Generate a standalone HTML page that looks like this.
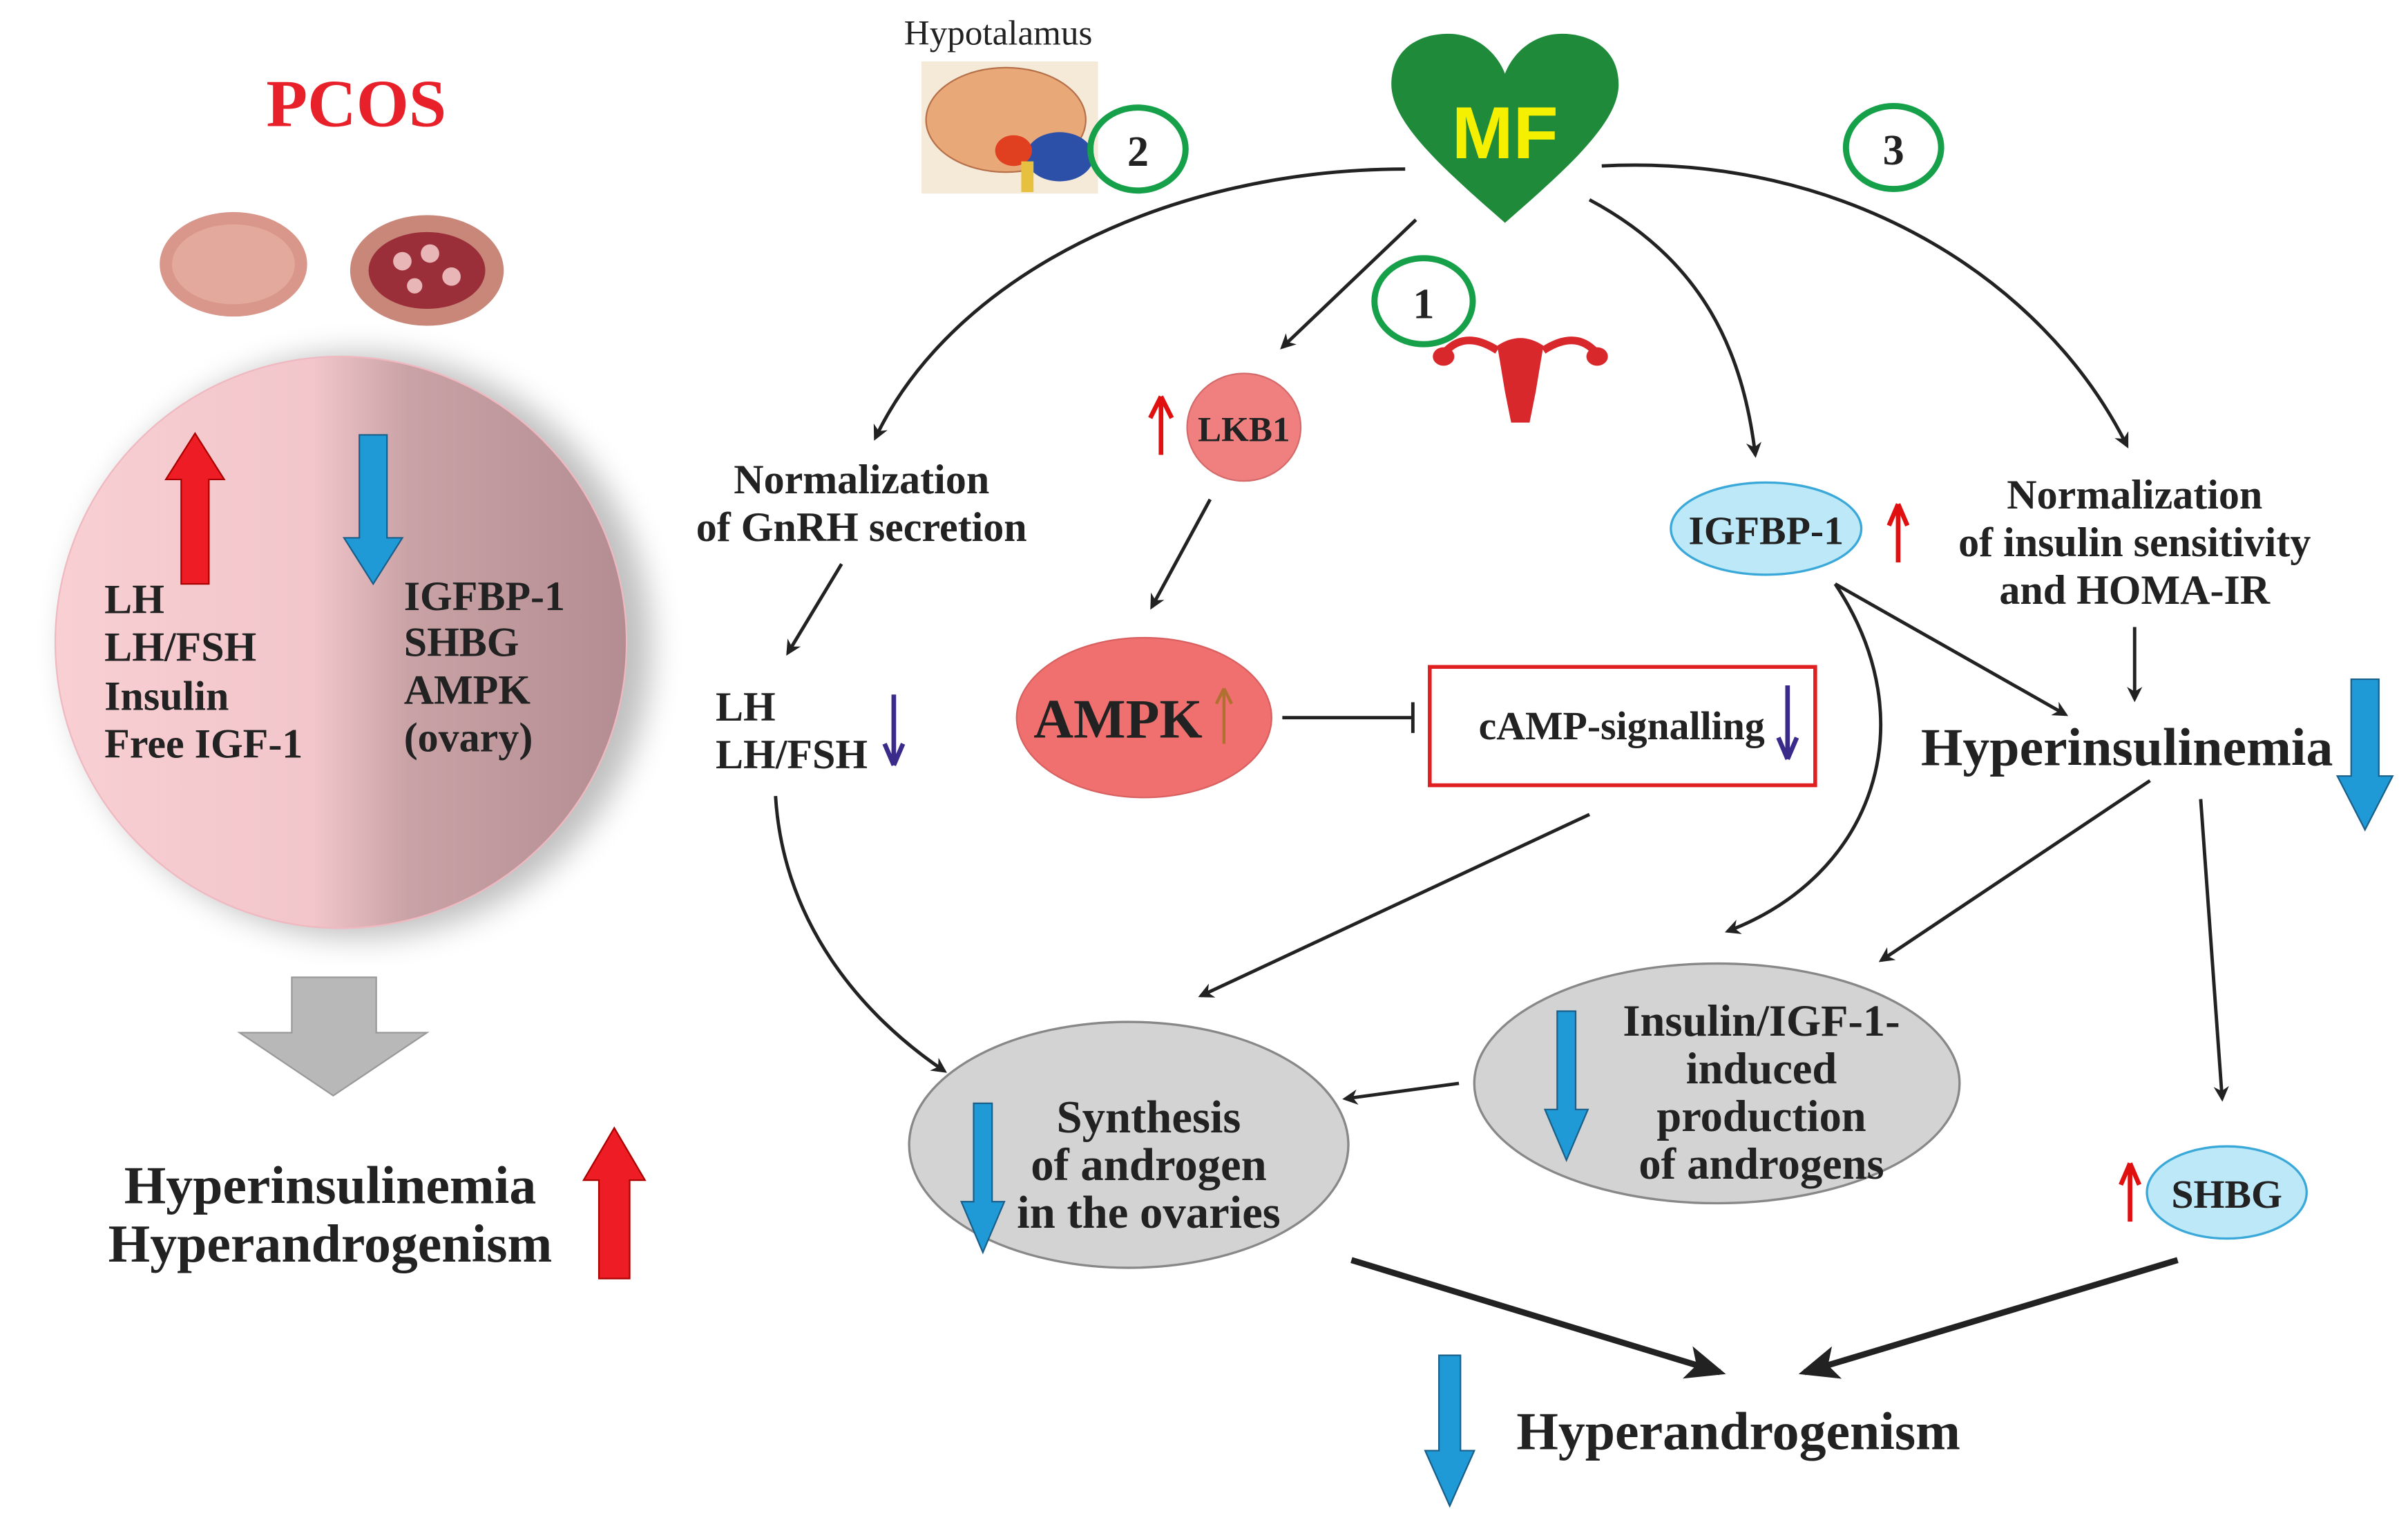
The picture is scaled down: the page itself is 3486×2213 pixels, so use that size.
<!DOCTYPE html>
<html><head><meta charset="utf-8"><style>
html,body{margin:0;padding:0;background:#fff;}
svg{display:block;}
text{font-family:"Liberation Serif",serif;font-weight:bold;fill:#222;}
</style></head><body>
<svg width="3486" height="2213" viewBox="0 0 1568 995" preserveAspectRatio="none" xmlns="http://www.w3.org/2000/svg">
<defs>
<marker id="ah" markerWidth="10" markerHeight="10" refX="8" refY="5" orient="auto" markerUnits="userSpaceOnUse" viewBox="0 0 10 10"><path d="M0,0 L10,5 L0,10 L3,5 z" fill="#222"/></marker>
<marker id="ah2" markerWidth="26" markerHeight="22" refX="22" refY="11" orient="auto" markerUnits="userSpaceOnUse" viewBox="0 0 26 22"><path d="M0,0 L26,11 L0,22 L6,11 z" fill="#222"/></marker>
<linearGradient id="shade" x1="0" y1="0" x2="1" y2="0"><stop offset="0" stop-color="#f8cfd3"/><stop offset="0.45" stop-color="#f2c6ca"/><stop offset="0.62" stop-color="#c9a2a6"/><stop offset="1" stop-color="#b38d91"/></linearGradient>
<filter id="blur"><feGaussianBlur stdDeviation="10"/></filter>
</defs>

<text x="232" y="82" font-size="44" style="fill:#e8202a" text-anchor="middle">PCOS</text>
<ellipse cx="152" cy="172" rx="48" ry="34" fill="#d9968a"/>
<ellipse cx="152" cy="172" rx="40" ry="26" fill="#e3a99c"/>
<ellipse cx="278" cy="176" rx="50" ry="36" fill="#c9877a"/>
<ellipse cx="278" cy="176" rx="38" ry="25" fill="#9a2f3a"/>
<circle cx="262" cy="170" r="6" fill="#e8b6b6"/><circle cx="280" cy="165" r="6" fill="#e8b6b6"/><circle cx="294" cy="180" r="6" fill="#e8b6b6"/><circle cx="270" cy="186" r="5" fill="#e8b6b6"/>

<circle cx="234" cy="420" r="190" fill="#000" opacity="0.25" filter="url(#blur)"/>
<circle cx="222" cy="418" r="186" fill="url(#shade)" stroke="#f0b8c0"/>

<path d="M127,282 L146,312 L136,312 L136,380 L118,380 L118,312 L108,312 z" fill="#ee1c24" stroke="#a00" stroke-width="1"/>
<path d="M243,380 L262,350 L252,350 L252,283 L234,283 L234,350 L224,350 z" fill="#1f9ad6" stroke="#1a5f8a" stroke-width="1"/>
<g font-size="27">
<text x="68" y="399">LH</text><text x="68" y="430">LH/FSH</text><text x="68" y="462">Insulin</text><text x="68" y="493">Free IGF-1</text>
<text x="263" y="397">IGFBP-1</text><text x="263" y="427">SHBG</text><text x="263" y="458">AMPK</text><text x="263" y="489">(ovary)</text>
</g>
<path d="M190,636 L245,636 L245,672 L278,672 L217,713 L156,672 L190,672 z" fill="#b8b8b8" stroke="#999"/>
<g font-size="35" text-anchor="middle"><text x="215" y="783">Hyperinsulinemia</text><text x="215" y="821">Hyperandrogenism</text></g>
<path d="M400,734 L420,768 L410,768 L410,832 L390,832 L390,768 L380,768 z" fill="#ee1c24" stroke="#a00"/>

<text x="650" y="29" font-size="23" style="font-weight:normal" text-anchor="middle">Hypotalamus</text>
<rect x="600" y="40" width="115" height="86" fill="#f5ead8"/>
<ellipse cx="655" cy="78" rx="52" ry="34" fill="#e9a878" stroke="#b6704a"/>
<ellipse cx="690" cy="102" rx="22" ry="16" fill="#2c4fa8"/>
<ellipse cx="660" cy="98" rx="12" ry="10" fill="#e04020"/>
<rect x="665" y="105" width="8" height="20" fill="#e8c040"/>
<ellipse cx="741" cy="97" rx="31" ry="27" fill="none" stroke="#17a04a" stroke-width="4"/>
<text x="741" y="108" font-size="28" text-anchor="middle">2</text>
<ellipse cx="1233" cy="96" rx="31" ry="27" fill="none" stroke="#17a04a" stroke-width="4"/>
<text x="1233" y="107" font-size="28" text-anchor="middle">3</text>
<ellipse cx="927" cy="196" rx="32" ry="28" fill="none" stroke="#17a04a" stroke-width="4"/>
<text x="927" y="207" font-size="28" text-anchor="middle">1</text>

<path d="M980,145 C940,110 906,80 906,55 C906,32 924,22 943,22 C962,22 975,35 980,48 C985,35 998,22 1017,22 C1036,22 1054,32 1054,55 C1054,80 1020,110 980,145 z" fill="#1e8a3a"/>
<text x="980" y="103" font-size="48" style="fill:#f5f000;font-family:'Liberation Sans',sans-serif" text-anchor="middle">MF</text>

<path d="M975,225 Q990,215 1005,225 L1000,255 L996,275 L984,275 L980,255 z" fill="#d8282c"/>
<path d="M975,228 Q955,215 942,228 M1005,228 Q1025,215 1038,228" stroke="#d8282c" stroke-width="5" fill="none"/>
<ellipse cx="940" cy="232" rx="7" ry="6" fill="#d8282c"/><ellipse cx="1040" cy="232" rx="7" ry="6" fill="#d8282c"/>

<g stroke="#222" stroke-width="2.2" fill="none" marker-end="url(#ah)">
<path d="M915,110 C760,110 620,180 570,285"/>
<path d="M922,143 L835,226"/>
<path d="M1035,130 C1110,170 1135,230 1143,296"/>
<path d="M1043,108 C1200,100 1330,180 1385,290"/>
<path d="M788,325 L750,395"/>
<path d="M548,367 L513,425"/>
<path d="M1390,408 L1390,455"/>
<path d="M1195,380 L1345,465"/>
<path d="M1195,380 C1255,470 1220,570 1125,606"/>
<path d="M1400,508 L1225,625"/>
<path d="M1433,520 L1447,715"/>
<path d="M1035,530 L782,648"/>
<path d="M505,518 C510,600 560,660 615,697"/>
<path d="M950,705 L876,715"/>
</g>
<g stroke="#222" stroke-width="4" fill="none" marker-end="url(#ah2)">
<path d="M880,820 L1120,893"/>
<path d="M1418,820 L1175,893"/>
</g>

<ellipse cx="810" cy="278" rx="37" ry="35" fill="#f08080" stroke="#d46a6a"/>
<text x="810" y="287" font-size="23" text-anchor="middle">LKB1</text>
<path d="M756,258 L763,272 M756,258 L749,272 M756,258 L756,296" stroke="#e01010" stroke-width="3" fill="none"/>

<text x="561" y="321" font-size="27" text-anchor="middle">Normalization</text>
<text x="561" y="352" font-size="27" text-anchor="middle">of GnRH secretion</text>

<ellipse cx="745" cy="467" rx="83" ry="52" fill="#f07070" stroke="#d86060"/>
<text x="728" y="480" font-size="36" text-anchor="middle">AMPK</text>
<path d="M797,448 L797,484 M797,448 L792,458 M797,448 L802,458" stroke="#b07030" stroke-width="2" fill="none"/>
<path d="M835,467 L920,467 M920,457 L920,477" stroke="#222" stroke-width="2.2" fill="none"/>
<rect x="931" y="434" width="251" height="77" fill="#fff" stroke="#e02020" stroke-width="2.5"/>
<text x="1056" y="481" font-size="26" text-anchor="middle">cAMP-signalling</text>
<path d="M1164,446 L1164,494 M1164,494 L1158,480 M1164,494 L1170,480" stroke="#3a2a8a" stroke-width="3" fill="none"/>

<text x="466" y="469" font-size="27">LH</text>
<text x="466" y="500" font-size="27">LH/FSH</text>
<path d="M582,452 L582,498 M582,498 L576,484 M582,498 L588,484" stroke="#3a2a8a" stroke-width="3" fill="none"/>

<ellipse cx="1150" cy="344" rx="62" ry="30" fill="#bde8f7" stroke="#3aa8d8" stroke-width="1.5"/>
<text x="1150" y="354" font-size="26" text-anchor="middle">IGFBP-1</text>
<path d="M1236,328 L1236,366 M1236,328 L1230,342 M1236,328 L1242,342" stroke="#e01010" stroke-width="3" fill="none"/>

<g font-size="27" text-anchor="middle"><text x="1390" y="331">Normalization</text><text x="1390" y="362">of insulin sensitivity</text><text x="1390" y="393">and HOMA-IR</text></g>
<text x="1385" y="498" font-size="35" text-anchor="middle">Hyperinsulinemia</text>
<path d="M1540,540 L1558,505 L1549,505 L1549,442 L1531,442 L1531,505 L1522,505 z" fill="#1f9ad6" stroke="#1a5f8a"/>

<ellipse cx="735" cy="745" rx="143" ry="80" fill="#d3d3d3" stroke="#888" stroke-width="1.5"/>
<g font-size="30" text-anchor="middle"><text x="748" y="737">Synthesis</text><text x="748" y="768">of androgen</text><text x="748" y="799">in the ovaries</text></g>
<path d="M640,815 L654,782 L646,782 L646,718 L634,718 L634,782 L626,782 z" fill="#1f9ad6" stroke="#1a5f8a"/>

<ellipse cx="1118" cy="705" rx="158" ry="78" fill="#d3d3d3" stroke="#888" stroke-width="1.5"/>
<g font-size="29" text-anchor="middle"><text x="1147" y="674">Insulin/IGF-1-</text><text x="1147" y="705">induced</text><text x="1147" y="736">production</text><text x="1147" y="767">of androgens</text></g>
<path d="M1020,755 L1034,722 L1026,722 L1026,658 L1014,658 L1014,722 L1006,722 z" fill="#1f9ad6" stroke="#1a5f8a"/>

<ellipse cx="1450" cy="776" rx="52" ry="30" fill="#bde8f7" stroke="#3aa8d8" stroke-width="1.5"/>
<text x="1450" y="786" font-size="26" text-anchor="middle">SHBG</text>
<path d="M1387,757 L1387,795 M1387,757 L1381,771 M1387,757 L1393,771" stroke="#e01010" stroke-width="3" fill="none"/>

<path d="M944,980 L960,944 L951,944 L951,882 L937,882 L937,944 L928,944 z" fill="#1f9ad6" stroke="#1a5f8a"/>
<text x="1132" y="943" font-size="35" text-anchor="middle">Hyperandrogenism</text>
</svg>
</body></html>
